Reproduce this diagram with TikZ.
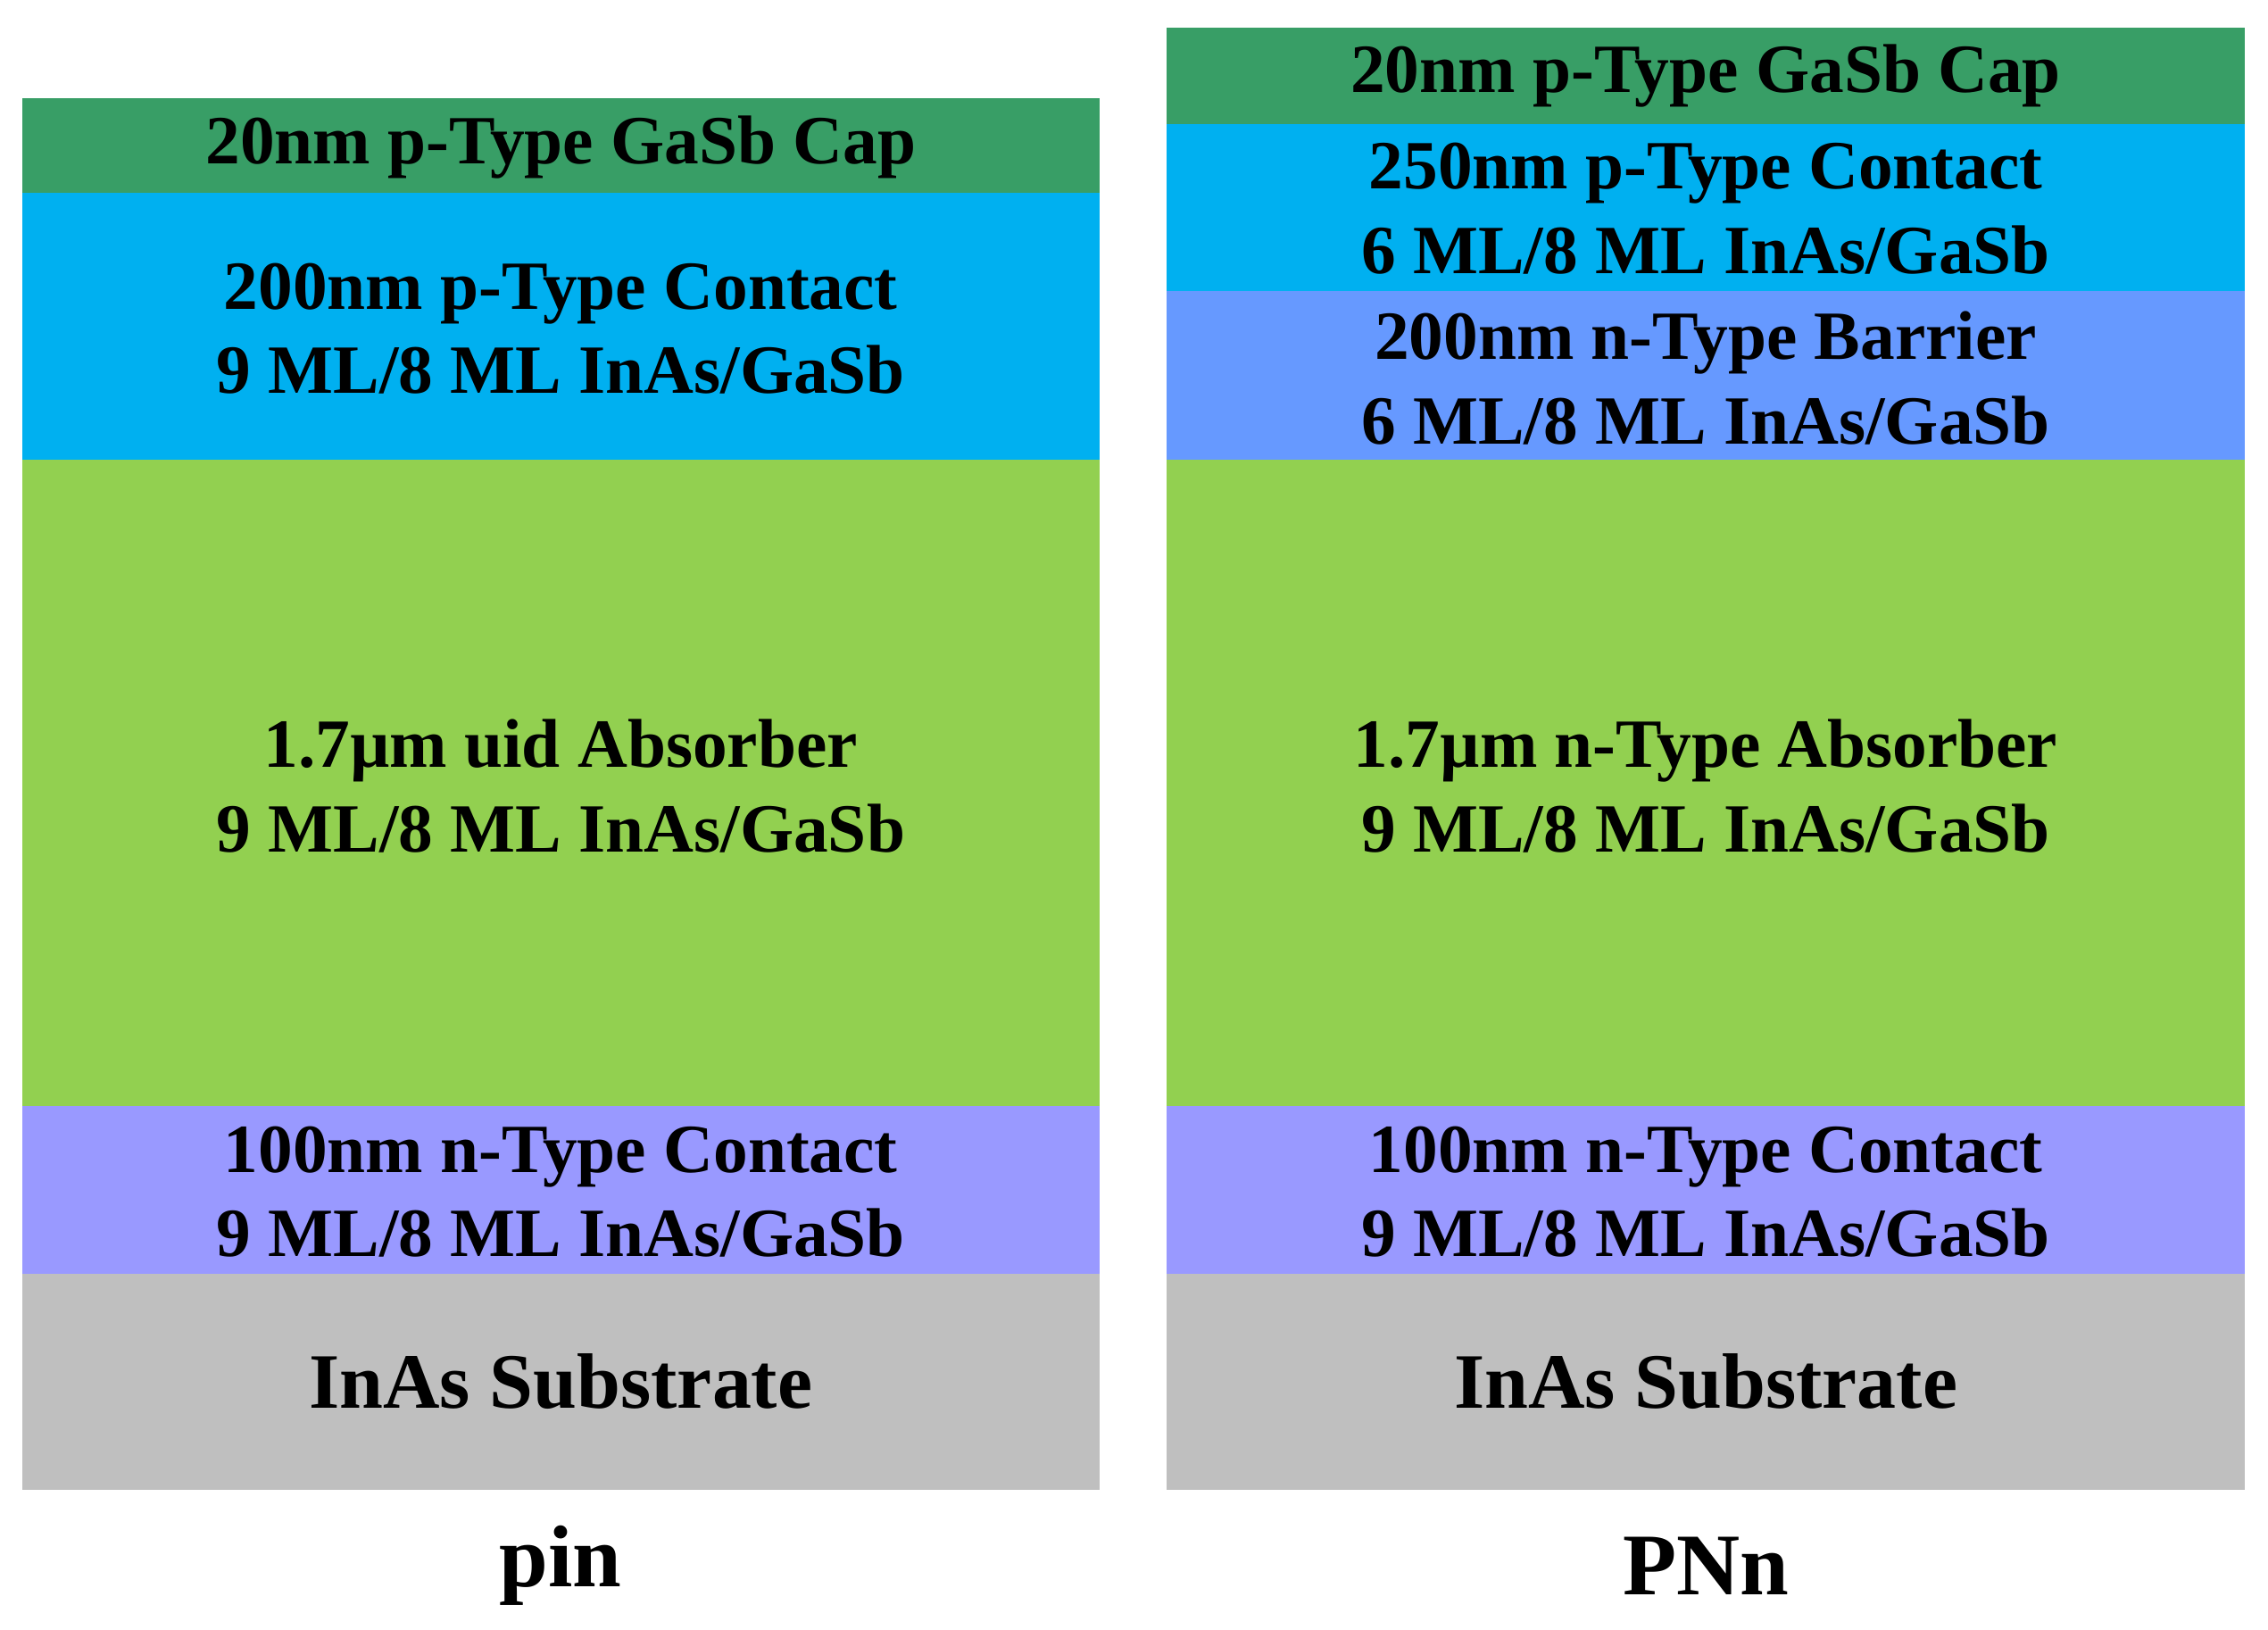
\documentclass[tikz,border=0pt]{standalone}
\usepackage{fontspec}
\setmainfont{Liberation Serif}
\definecolor{capc}{HTML}{389E66}
\definecolor{pcc}{HTML}{00B0F0}
\definecolor{barc}{HTML}{6699FF}
\definecolor{absc}{HTML}{92D050}
\definecolor{ncc}{HTML}{9999FF}
\definecolor{subc}{HTML}{BFBFBF}
\begin{document}
\begin{tikzpicture}[x=0.01636cm,y=-0.01636cm,
  txt/.style={font=\fontsize{22}{27}\selectfont\bfseries,align=center,text=black},
  big/.style={font=\fontsize{25}{30}\selectfont\bfseries,align=center},
  lbl/.style={font=\fontsize{28}{32}\selectfont\bfseries}]
\useasboundingbox (0,0) rectangle (1553,1116);
% left
\fill[capc] (15,67) rectangle (753,132);
\fill[pcc] (15,132) rectangle (753,315);
\fill[absc] (15,315) rectangle (753,757);
\fill[ncc] (15,757) rectangle (753,872);
\fill[subc] (15,872) rectangle (753,1020);
\node[txt] (l1) at (384,101) {20nm p-Type GaSb Cap};
\node[txt] (l2) at (384,225) {200nm p-Type Contact\\9 ML/8 ML InAs/GaSb};
\node[txt] (l3) at (384,538) {1.7µm uid Absorber\\9 ML/8 ML InAs/GaSb};
\node[txt] (l4) at (384,816) {100nm n-Type Contact\\9 ML/8 ML InAs/GaSb};
\node[big] (l5) at (384,946) {InAs Substrate};
\node[lbl] (lt) at (384,1072) {pin};
% right
\fill[capc] (799,19) rectangle (1537,85);
\fill[pcc] (799,85) rectangle (1537,199);
\fill[barc] (799,199) rectangle (1537,315);
\fill[absc] (799,315) rectangle (1537,757);
\fill[ncc] (799,757) rectangle (1537,872);
\fill[subc] (799,872) rectangle (1537,1020);
\node[txt] (r1) at (1168,52) {20nm p-Type GaSb Cap};
\node[txt] (r2) at (1168,143) {250nm p-Type Contact\\6 ML/8 ML InAs/GaSb};
\node[txt] (r3) at (1168,259) {200nm n-Type Barrier\\6 ML/8 ML InAs/GaSb};
\node[txt] (r4) at (1168,538) {1.7µm n-Type Absorber\\9 ML/8 ML InAs/GaSb};
\node[txt] (r5) at (1168,816) {100nm n-Type Contact\\9 ML/8 ML InAs/GaSb};
\node[big] (r6) at (1168,946) {InAs Substrate};
\node[lbl] (rt) at (1168,1072) {PNn};
\end{tikzpicture}
\end{document}
